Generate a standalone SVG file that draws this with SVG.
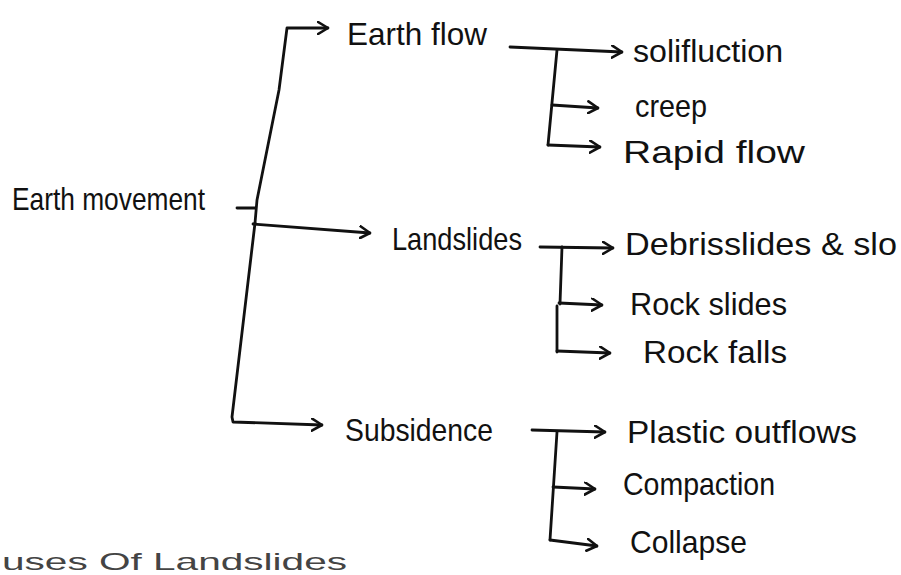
<svg xmlns="http://www.w3.org/2000/svg" width="901" height="575" viewBox="0 0 901 575">
<defs>
<marker id="arr" viewBox="0 0 12 14" refX="11" refY="7" markerWidth="12" markerHeight="14" markerUnits="userSpaceOnUse" orient="auto">
<path d="M1,1 L11,7 L1,13" fill="none" stroke="#111" stroke-width="2.6" stroke-linecap="round" stroke-linejoin="round"/>
</marker>
<style>
.t{font-family:"Liberation Sans","DejaVu Sans",sans-serif;font-size:32px;fill:#111}
.c path{fill:none;stroke:#111;stroke-width:2.8;stroke-linecap:round;stroke-linejoin:round}
.a{marker-end:url(#arr)}
</style>
</defs>
<rect width="901" height="575" fill="#ffffff"/>
<g class="c" id="connectors">
<path d="M237,208 L255,208"/>
<path class="a" d="M255,223 L257,200 L267,150 L279,90 L287,28 L328,28"/>
<path class="a" d="M255,223 L232,417 L233,422 L322,425"/>
<path class="a" d="M253,224 L370,233"/>
<path class="a" d="M510,47 L622,52"/>
<path d="M557,50 L548,145"/>
<path class="a" d="M552,105 L598,108"/>
<path class="a" d="M548,145 L600,147"/>
<path class="a" d="M540,247 L613,248"/>
<path d="M562,247 L560,304 M557,306 L557,352"/>
<path class="a" d="M559,303 L602,305"/>
<path class="a" d="M557,351 L610,353"/>
<path class="a" d="M532,430 L605,432"/>
<path d="M557,432 L550,540"/>
<path class="a" d="M553,487 L595,489"/>
<path class="a" d="M550,540 L597,546"/>
</g>
<g id="n-earth-movement"><text class="t" x="12" y="210" textLength="193" lengthAdjust="spacingAndGlyphs">Earth movement</text></g>
<g id="n-earth-flow"><text class="t" x="347" y="45" textLength="140" lengthAdjust="spacingAndGlyphs">Earth flow</text></g>
<g id="n-landslides"><text class="t" x="392" y="250" textLength="130" lengthAdjust="spacingAndGlyphs">Landslides</text></g>
<g id="n-subsidence"><text class="t" x="345" y="441" textLength="148" lengthAdjust="spacingAndGlyphs">Subsidence</text></g>
<g id="n-solifluction"><text class="t" x="633" y="62" textLength="150" lengthAdjust="spacingAndGlyphs">solifluction</text></g>
<g id="n-creep"><text class="t" x="635" y="117" textLength="72" lengthAdjust="spacingAndGlyphs">creep</text></g>
<g id="n-rapid-flow"><text class="t" x="623" y="163" textLength="182" lengthAdjust="spacingAndGlyphs">Rapid flow</text></g>
<g id="n-debris"><text class="t" x="625" y="255" textLength="272" lengthAdjust="spacingAndGlyphs">Debrisslides &amp; slo</text></g>
<g id="n-rock-slides"><text class="t" x="630" y="315" textLength="157" lengthAdjust="spacingAndGlyphs">Rock slides</text></g>
<g id="n-rock-falls"><text class="t" x="643" y="363" textLength="144" lengthAdjust="spacingAndGlyphs">Rock falls</text></g>
<g id="n-plastic"><text class="t" x="627" y="443" textLength="230" lengthAdjust="spacingAndGlyphs">Plastic outflows</text></g>
<g id="n-compaction"><text class="t" x="623" y="495" textLength="152" lengthAdjust="spacingAndGlyphs">Compaction</text></g>
<g id="n-collapse"><text class="t" x="630" y="553" textLength="117" lengthAdjust="spacingAndGlyphs">Collapse</text></g>
<text class="t" x="2" y="570" style="font-size:24px;fill:#444" textLength="345" lengthAdjust="spacingAndGlyphs">uses Of Landslides</text>
</svg>
